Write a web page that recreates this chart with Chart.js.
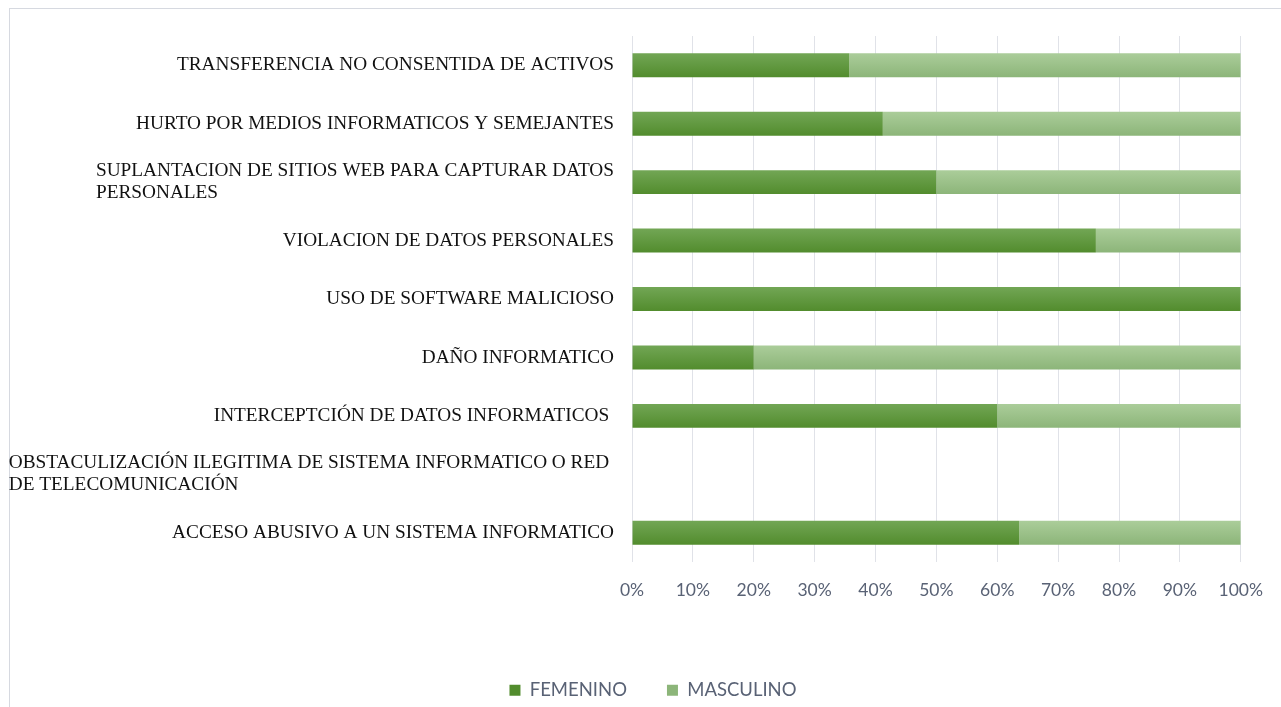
<!DOCTYPE html>
<html>
<head>
<meta charset="utf-8">
<script src="https://cdn.jsdelivr.net/npm/chart.js@4"></script>
<style>
  body { margin: 0; background: #fff; }
  #wrap { position: relative; width: 1281px; height: 707px; overflow: hidden; }
  #frame { position: absolute; left: 9px; top: 8px; width: 1290px; height: 720px; border: 1px solid #d6d9e0; }
  canvas { position: absolute; left: 0; top: 0; }
</style>
</head>
<body>
<div id="wrap">
  <div id="frame"></div>
  <canvas id="chart" width="1281" height="707"></canvas>
</div>
<script>
let categories = [
    "TRANSFERENCIA NO CONSENTIDA DE ACTIVOS",
    "HURTO POR MEDIOS INFORMATICOS Y SEMEJANTES",
    ["SUPLANTACION DE SITIOS WEB PARA CAPTURAR DATOS", "PERSONALES"],
    "VIOLACION DE DATOS PERSONALES",
    "USO DE SOFTWARE MALICIOSO",
    "DAÑO INFORMATICO",
    "INTERCEPTCIÓN DE DATOS INFORMATICOS ",
    ["OBSTACULIZACIÓN ILEGITIMA DE SISTEMA INFORMATICO O RED ", "DE TELECOMUNICACIÓN"],
    "ACCESO ABUSIVO A UN SISTEMA INFORMATICO"
];

let femenino = [35.7, 41.2, 50, 76.2, 100, 20, 60, 0, 63.6];
let masculino = [64.3, 58.8, 50, 23.8, 0, 80, 40, 0, 36.4];

let xTicks = [0, 10, 20, 30, 40, 50, 60, 70, 80, 90, 100];

// degradado vertical por barra
function barGradient(top, bottom, solid){
    return function(context){
        let chart = context.chart;
        if(!chart.chartArea || !chart.scales.y) return solid;
        let yc = chart.scales.y.getPixelForValue(context.dataIndex);
        let g = chart.ctx.createLinearGradient(0, yc - 12, 0, yc + 12);
        g.addColorStop(0, top);
        g.addColorStop(1, bottom);
        return g;
    };
}

// etiquetas del eje Y: bloque alineado a la derecha, líneas a la izquierda
const yLabels = {
    id: 'yLabels',
    afterDraw(chart){
        let ctx = chart.ctx;
        let y = chart.scales.y;
        ctx.save();
        ctx.font = '19.3px "Liberation Serif"';
        ctx.fillStyle = '#111';
        ctx.textBaseline = 'middle';
        ctx.textAlign = 'left';
        chart.data.labels.forEach((lab, i) => {
            let lines = Array.isArray(lab) ? lab : [lab];
            let w = Math.max(...lines.map(l => ctx.measureText(l).width));
            let x = chart.chartArea.left - 18 - w;
            let yc = y.getPixelForValue(i);
            lines.forEach((l, j) => {
                ctx.fillText(l, x, yc + (j - (lines.length - 1) / 2) * 22);
            });
        });
        ctx.restore();
    }
};

// altura fija de la leyenda
const legendHeight = {
    id: 'legendHeight',
    beforeInit(chart){
        let fit = chart.legend.fit;
        chart.legend.fit = function(){
            fit.call(this);
            this.height = 66;
        };
    }
};

let ctx = document.getElementById("chart").getContext("2d");

let chart = new Chart(ctx, {
    type: 'bar',
    data: {
        labels: categories,
        datasets: [{
            label: 'FEMENINO',
            data: femenino,
            backgroundColor: barGradient('#72a655', '#528c2d', '#5b963a'),
            borderWidth: 0,
            barPercentage: 0.41,
            categoryPercentage: 1
        }, {
            label: 'MASCULINO',
            data: masculino,
            backgroundColor: barGradient('#abcd9a', '#8cb579', '#9dc28a'),
            borderWidth: 0,
            barPercentage: 0.41,
            categoryPercentage: 1
        }]
    },
    options: {
        indexAxis: 'y',
        responsive: false,
        animation: false,
        layout: {
            padding: { left: 63, right: 38, top: 36, bottom: 0 }
        },
        scales: {
            x: {
                stacked: true,
                min: 0,
                max: 100,
                afterBuildTicks: (scale) => {
                    scale.ticks = xTicks.map(v => ({ value: v }));
                },
                afterFit: (scale) => {
                    scale.height = 79;
                },
                ticks: {
                    padding: 18,
                    color: '#596275',
                    font: { family: 'Lato', size: 17.5 },
                    callback: (v) => v + '%'
                },
                grid: {
                    color: '#e0e2e8',
                    drawTicks: false
                },
                border: { display: false }
            },
            y: {
                stacked: true,
                afterFit: (scale) => {
                    scale.width = 569;
                },
                ticks: { color: 'transparent' },
                grid: { display: false },
                border: { display: false }
            }
        },
        plugins: {
            legend: {
                position: 'bottom',
                labels: {
                    boxWidth: 11,
                    boxHeight: 11,
                    padding: 40,
                    color: '#596275',
                    font: { family: 'Lato', size: 18.5 }
                }
            },
            tooltip: { enabled: false }
        }
    },
    plugins: [yLabels, legendHeight]
});
</script>
</body>
</html>
